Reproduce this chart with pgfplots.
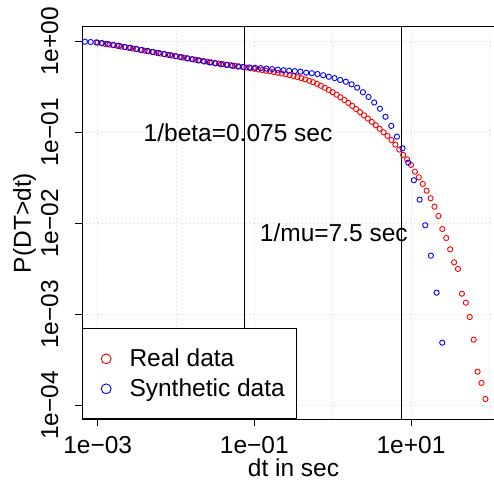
\documentclass[border=0pt]{standalone}
\usepackage{fontspec}
\setmainfont{Liberation Sans}
\usepackage{pgfplots}
\pgfplotsset{compat=1.18}
\usepackage{pgfplotstable}
\definecolor{rred}{RGB}{255,0,0}
\definecolor{rblue}{RGB}{0,0,255}
\definecolor{lgray}{RGB}{211,211,211}
\pgfplotsset{bigcirc/.style={legend image code/.code={\path[draw=none,fill=none] (-11.7pt,-7.3pt) (23.3pt,22.7pt); \draw[##1, mark size=4.9pt] plot coordinates {(0pt,7.4pt)};}}}
% log10(dt), log10(P(DT>dt))
\pgfplotstableread{
lx ly
-3.00 -0.015
-2.95 -0.022
-2.90 -0.030
-2.85 -0.037
-2.80 -0.044
-2.75 -0.050
-2.70 -0.058
-2.65 -0.065
-2.60 -0.073
-2.55 -0.081
-2.50 -0.088
-2.45 -0.096
-2.40 -0.104
-2.35 -0.111
-2.30 -0.119
-2.25 -0.127
-2.20 -0.135
-2.15 -0.142
-2.10 -0.150
-2.05 -0.157
-2.00 -0.165
-1.95 -0.173
-1.90 -0.180
-1.85 -0.188
-1.80 -0.196
-1.75 -0.203
-1.70 -0.210
-1.65 -0.217
-1.60 -0.224
-1.55 -0.231
-1.50 -0.238
-1.45 -0.244
-1.40 -0.250
-1.35 -0.256
-1.30 -0.262
-1.25 -0.268
-1.20 -0.275
-1.15 -0.282
-1.10 -0.289
-1.05 -0.296
-1.00 -0.303
-0.95 -0.310
-0.90 -0.317
-0.85 -0.324
-0.80 -0.331
-0.75 -0.338
-0.70 -0.346
-0.65 -0.354
-0.60 -0.363
-0.55 -0.372
-0.50 -0.382
-0.45 -0.393
-0.40 -0.405
-0.35 -0.419
-0.30 -0.434
-0.25 -0.450
-0.20 -0.468
-0.15 -0.489
-0.10 -0.511
-0.05 -0.535
0.00 -0.560
0.05 -0.587
0.10 -0.615
0.15 -0.645
0.20 -0.677
0.25 -0.710
0.30 -0.744
0.35 -0.779
0.40 -0.814
0.45 -0.849
0.50 -0.886
0.55 -0.923
0.60 -0.962
0.65 -1.000
0.70 -1.040
0.75 -1.085
0.80 -1.135
0.85 -1.190
0.90 -1.249
0.95 -1.297
1.00 -1.359
1.05 -1.433
1.10 -1.495
1.15 -1.568
1.20 -1.642
1.25 -1.725
1.30 -1.818
1.35 -1.920
1.40 -2.063
1.45 -2.162
1.50 -2.286
1.55 -2.429
1.60 -2.502
1.65 -2.774
1.70 -2.873
1.75 -3.030
1.80 -3.279
1.85 -3.631
1.90 -3.755
1.95 -3.931
}\realdata
\pgfplotstableread{
lx ly
-3.162 -0.005
-3.090 -0.008
-3.017 -0.012
-2.945 -0.020
-2.872 -0.030
-2.800 -0.040
-2.728 -0.050
-2.655 -0.062
-2.583 -0.072
-2.510 -0.083
-2.438 -0.095
-2.366 -0.106
-2.293 -0.117
-2.221 -0.128
-2.148 -0.140
-2.076 -0.152
-2.004 -0.163
-1.931 -0.175
-1.859 -0.187
-1.786 -0.198
-1.714 -0.210
-1.642 -0.222
-1.569 -0.233
-1.497 -0.243
-1.424 -0.253
-1.352 -0.262
-1.280 -0.270
-1.207 -0.278
-1.135 -0.284
-1.062 -0.288
-0.990 -0.291
-0.918 -0.295
-0.845 -0.300
-0.773 -0.306
-0.700 -0.312
-0.628 -0.318
-0.556 -0.323
-0.483 -0.328
-0.411 -0.334
-0.338 -0.345
-0.266 -0.351
-0.194 -0.360
-0.121 -0.373
-0.049 -0.390
0.024 -0.405
0.096 -0.425
0.168 -0.445
0.241 -0.473
0.313 -0.510
0.386 -0.560
0.458 -0.612
0.530 -0.673
0.603 -0.741
0.675 -0.830
0.748 -0.930
0.820 -1.048
0.892 -1.176
0.965 -1.334
1.037 -1.527
1.110 -1.741
1.182 -2.022
1.254 -2.356
1.327 -2.763
1.399 -3.312
}\syndata
\begin{document}
\fontsize{24.5}{29}\selectfont%
\begin{tikzpicture}[x=1pt,y=1pt]
\path[use as bounding box] (0,0) rectangle (494,482);
\begin{axis}[
  at={(82pt,63pt)}, anchor=south west,
  scale only axis, width=423pt, height=392pt,
  xmin=-3.2, xmax=2.2, ymin=-4.151, ymax=0.157,
  axis line style={black, line width=1pt},
  every tick/.style={black, line width=1pt},
  tick align=outside, major tick length=7pt,
  xtick pos=left, ytick pos=left,
  xtick={-3,-1,1},
  xticklabels={1e−03,1e−01,1e+01},
  ytick={0,-1,-2,-3,-4},
  yticklabels={1e+00,1e−01,1e−02,1e−03,1e−04},
  extra x ticks={-2,0,2},
  extra x tick labels={},
  extra x tick style={major tick length=0pt, grid=major},
  grid=major,
  major grid style={lgray, line width=1pt, dash pattern=on 1pt off 3pt},
  xticklabel style={anchor=base, yshift=-27.7pt},
  yticklabel style={xshift=-17pt, rotate=90, anchor=base},
  xlabel={dt in sec},
  xlabel style={at={(axis description cs:0.5,0)}, anchor=base, yshift=-57pt},
  ylabel={P(DT>dt)},
  ylabel style={at={(axis description cs:-0.1206,0.5)}, anchor=base, rotate=0},
  legend style={at={(rel axis cs:0,0)}, anchor=south west, draw=black, line width=1pt, fill=white,
    inner xsep=12pt, inner ysep=15pt, row sep=0pt, column sep=0pt,
    nodes={inner sep=0pt, text height=22.7pt, text depth=7.3pt}},
  legend cell align=left,
  legend style={cells={anchor=base west}},
]
\addplot[only marks, mark=o, mark size=2.6pt, line width=0.9pt, color=rred, bigcirc]
  table[x=lx, y=ly] {\realdata};
\addlegendentry{Real data}
\addplot[only marks, mark=o, mark size=2.6pt, line width=0.9pt, color=rblue, bigcirc]
  table[x=lx, y=ly] {\syndata};
\addlegendentry{Synthetic data}
\addplot[black, line width=1pt, forget plot] coordinates {(-1.1249,-5) (-1.1249,1)};
\addplot[black, line width=1pt, forget plot] coordinates {(0.8751,-5) (0.8751,1)};
\node[anchor=base] at (axis cs:-1.208,-1.103) {1/beta=0.075 sec};
\node[anchor=base] at (axis cs:0.015,-2.202) {1/mu=7.5 sec};
\end{axis}
\end{tikzpicture}
\end{document}
